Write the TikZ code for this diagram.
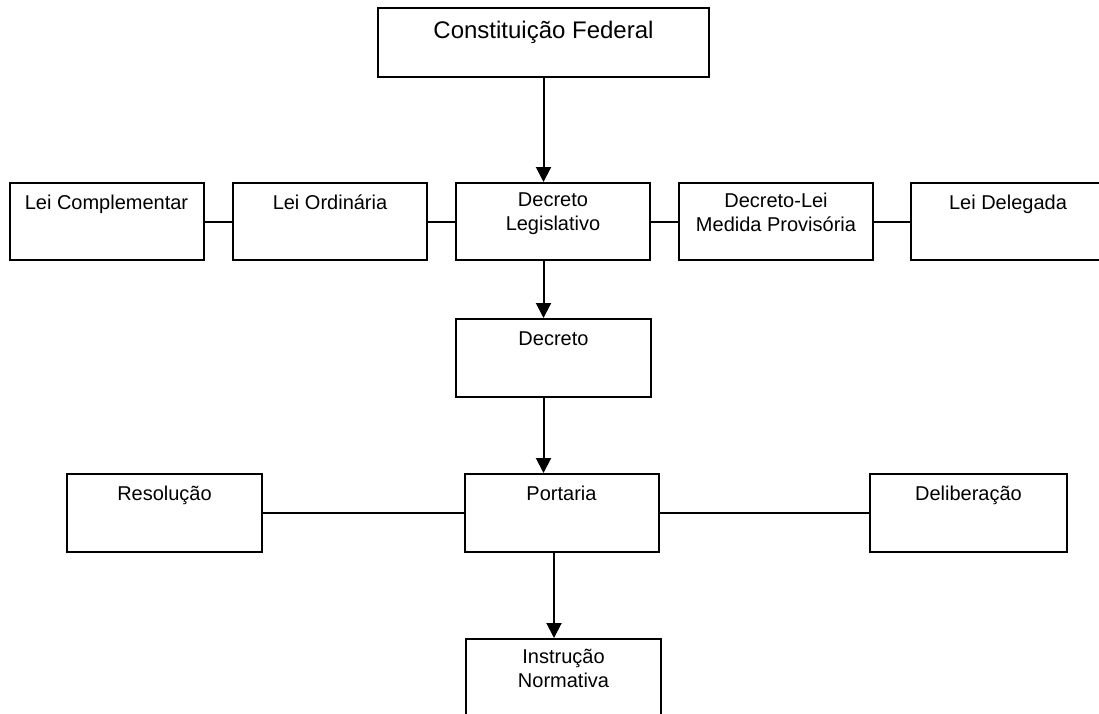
\documentclass[tikz,border=0pt]{standalone}
\usepackage{fontspec}
\setmainfont{Liberation Sans}
\usetikzlibrary{arrows.meta}
\begin{document}
\begin{tikzpicture}[x=1pt,y=-1pt,
  box/.style={draw, line width=2pt, minimum width=194pt, minimum height=77pt, inner sep=0pt},
  txt/.style={anchor=north, yshift=-10.5pt, inner sep=0pt, align=center,
    font=\fontsize{20}{24}\selectfont, execute at begin node=\strut},
  link/.style={line width=2pt},
  arr/.style={line width=2pt, -{Triangle[length=15pt,width=15pt]}}]
  \useasboundingbox (0,0) rectangle (1099,713);
  % top
  \node[box, minimum width=331pt, minimum height=69pt,
    label={[txt, font=\fontsize{24}{29}\selectfont]north:Constituição Federal}] (cf) at (543.5,42.5) {};
  % second row
  \node[box, label={[txt]north:Lei Complementar}] (lcomp) at (106.5,221.5) {};
  \node[box, label={[txt]north:Lei Ordinária}] (lord) at (330,221.5) {};
  \node[box, label={[txt]north:{Decreto\\Legislativo}}] (dleg) at (553,221.5) {};
  \node[box, label={[txt]north:{Decreto-Lei\\Medida Provisória}}] (dmp) at (776,221.5) {};
  \node[box, label={[txt]north:Lei Delegada}] (ldel) at (1008,221.5) {};
  \draw[link] (lcomp) -- (lord);
  \draw[link] (lord) -- (dleg);
  \draw[link] (dleg) -- (dmp);
  \draw[link] (dmp) -- (ldel);
  % decreto
  \node[box, minimum width=195pt, minimum height=78pt, label={[txt]north:Decreto}] (dec) at (553.5,358) {};
  % third row
  \node[box, minimum width=195pt, minimum height=78pt, label={[txt]north:Resolução}] (res) at (164.5,513) {};
  \node[box, minimum width=194pt, minimum height=78pt, label={[txt]north:Portaria}] (port) at (561.5,513) {};
  \node[box, minimum width=197pt, minimum height=78pt, label={[txt]north:Deliberação}] (delib) at (968.5,513) {};
  \draw[link] (res) -- (port);
  \draw[link] (port) -- (delib);
  % bottom, cut by the page edge
  \node[box, minimum width=195pt, minimum height=78pt, label={[txt]north:{Instrução\\Normativa}}] (instr) at (563.5,678) {};
  % arrows
  \draw[arr] (cf.south) -- (cf.south |- dleg.north);
  \draw[arr] (dleg.south -| cf.south) -- (dec.north -| cf.south);
  \draw[arr] (dec.south -| cf.south) -- (port.north -| cf.south);
  \draw[arr] ([xshift=-7.5pt]port.south) -- ([xshift=-7.5pt]port.south |- instr.north);
\end{tikzpicture}
\end{document}
